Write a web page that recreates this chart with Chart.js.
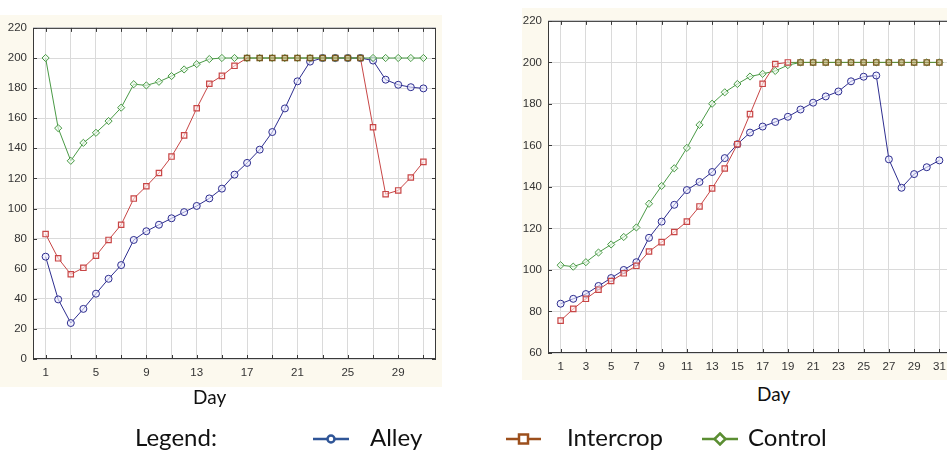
<!DOCTYPE html>
<html>
<head>
<meta charset="utf-8">
<script src="https://cdn.jsdelivr.net/npm/chart.js@4.4.0/dist/chart.umd.min.js"></script>
<style>
  html, body { margin: 0; padding: 0; overflow: hidden; }
  body { width: 947px; height: 451px; position: relative; background: #fff; }
  .wrap { position: absolute; }
  .txt { position: absolute; font-family: Lato, "Open Sans", sans-serif; color: #111; line-height: 1.2; white-space: nowrap; }
  .mk { position: absolute; }
</style>
</head>
<body>
<div class="wrap" style="left:0;top:15px;width:442px;height:372px"><canvas id="leftChart"></canvas></div>
<div class="wrap" style="left:522px;top:8px;width:440px;height:372px"><canvas id="rightChart"></canvas></div>

<div class="txt" style="left:193px;top:386px;font-size:19px">Day</div>
<div class="txt" style="left:757px;top:383px;font-size:19px">Day</div>

<div class="txt" style="left:135px;top:423px;font-size:24px">Legend:</div>
<svg class="mk" style="left:313px;top:432px" width="36" height="14">
  <line x1="0" y1="7" x2="36" y2="7" stroke="#2f5597" stroke-width="2.5"/>
  <circle cx="18" cy="7" r="3.5" fill="#fff" stroke="#2f5597" stroke-width="2.5"/>
</svg>
<div class="txt" style="left:370px;top:423px;font-size:24px">Alley</div>
<svg class="mk" style="left:506px;top:432px" width="35" height="14">
  <line x1="0" y1="7" x2="35" y2="7" stroke="#9c4f1c" stroke-width="2.5"/>
  <rect x="13" y="2.5" width="9" height="9" fill="#fff" stroke="#9c4f1c" stroke-width="2.5"/>
</svg>
<div class="txt" style="left:567px;top:423px;font-size:24px">Intercrop</div>
<svg class="mk" style="left:702px;top:432px" width="36" height="14">
  <line x1="0" y1="7" x2="36" y2="7" stroke="#5b8e32" stroke-width="2.5"/>
  <polygon points="18,1.5 23.5,7 18,12.5 12.5,7" fill="#fff" stroke="#5b8e32" stroke-width="2.5"/>
</svg>
<div class="txt" style="left:748px;top:423px;font-size:24px">Control</div>

<script>
// Données
const days = [1, 2, 3, 4, 5, 6, 7, 8, 9, 10, 11, 12, 13, 14, 15, 16, 17, 18, 19, 20, 21, 22, 23, 24, 25, 26, 27, 28, 29, 30, 31];
const gridDays = [1, 3, 5, 7, 9, 11, 13, 15, 17, 19, 21, 23, 25, 27, 29, 31];
const leftDayLabels = [1, 5, 9, 13, 17, 21, 25, 29];
const rightDayLabels = [1, 3, 5, 7, 9, 11, 13, 15, 17, 19, 21, 23, 25, 27, 29, 31];

// graphique de gauche
const leftAlley = [68, 39.6, 23.9, 33.3, 43.4, 53.3, 62.4, 79.1, 84.9, 89.2, 93.5, 97.6, 101.7, 106.7, 113.2, 122.5,
  130.3, 139.1, 150.8, 166.5, 184.5, 197.6, 200, 200, 200, 200, 198.3, 185.6, 182.2, 180.6, 179.8];
const leftIntercrop = [83, 66.9, 56.3, 60.6, 68.6, 79.1, 89.2, 106.6, 114.8, 123.6, 134.5, 148.6, 166.6, 182.9, 188.1, 194.8,
  200, 200, 200, 200, 200, 200, 200, 200, 200, 200, 154, 109.5, 112, 120.6, 131];
const leftControl = [200, 153.4, 131.7, 143.6, 150.3, 158.1, 167, 182.6, 181.8, 184.2, 188, 192.4, 195.9, 199.3,
  200, 200, 200, 200, 200, 200, 200, 200, 200, 200, 200, 200, 200, 200, 200, 200, 200];

// graphique de droite
const rightAlley = [83.75, 86.1, 88.4, 92.3, 96.1, 100, 103.75, 115.5, 123.3, 131.4, 138.5, 142.4, 147.2, 153.9, 160.6, 166.2,
  169.1, 171.3, 173.8, 177.3, 180.6, 183.6, 186, 190.9, 193.1, 193.7, 153.3, 139.6, 146.2, 149.5, 152.8];
const rightIntercrop = [75.6, 81.25, 86.1, 90.5, 94.7, 98.4, 102, 108.9, 113.4, 118.3, 123.3, 130.6, 139.3, 148.9, 160.6, 175.1,
  189.7, 199.2, 200, 200, 200, 200, 200, 200, 200, 200, 200, 200, 200, 200, 200];
const rightControl = [102.3, 101.6, 103.75, 108.4, 112.3, 115.9, 120.5, 131.9, 140.5, 149, 158.8, 169.9, 180.1, 185.6, 189.6,
  193.2, 194.5, 195.9, 198.7, 200, 200, 200, 200, 200, 200, 200, 200, 200, 200, 200, 200];

const CREAM = '#fcf9ee';
const BLUE = '#2e2e90';
const RED = '#c84646';
const GREEN = '#4a9a46';
const BROWN = '#7a5a22';

function toPoints(values) {
    return days.map((d, i) => ({ x: d, y: values[i] }));
}

// fond crème + cadre avec petites graduations vers l'intérieur
const framePlugin = {
    id: 'frame',
    beforeDraw(chart) {
        const ctx = chart.ctx, a = chart.chartArea;
        ctx.save();
        ctx.fillStyle = CREAM;
        ctx.fillRect(0, 0, chart.width, chart.height);
        ctx.fillStyle = '#fff';
        ctx.fillRect(a.left, a.top, a.right - a.left, a.bottom - a.top);
        ctx.restore();
    },
    beforeDatasetsDraw(chart) {
        const ctx = chart.ctx, a = chart.chartArea;
        const xs = chart.scales.x, ys = chart.scales.y;
        ctx.save();
        ctx.strokeStyle = '#3a3a3a';
        ctx.lineWidth = 1;
        ctx.strokeRect(a.left + 0.5, a.top + 0.5, a.right - a.left - 1, a.bottom - a.top - 1);
        ctx.beginPath();
        xs.ticks.forEach(t => {
            const x = Math.round(xs.getPixelForValue(t.value)) + 0.5;
            ctx.moveTo(x, a.bottom); ctx.lineTo(x, a.bottom - 4);
            ctx.moveTo(x, a.top); ctx.lineTo(x, a.top + 4);
        });
        ys.ticks.forEach(t => {
            const y = Math.round(ys.getPixelForValue(t.value)) + 0.5;
            ctx.moveTo(a.left, y); ctx.lineTo(a.left + 4, y);
            ctx.moveTo(a.right, y); ctx.lineTo(a.right - 4, y);
        });
        ctx.stroke();
        ctx.restore();
    }
};

function makeChart(id, alley, intercrop, control, yMin, labelDays, pad, yWidth, xHeight) {
    const onControl = (ctx) => {
        const i = ctx.dataIndex;
        return intercrop[i] === 200 && control[i] === 200;
    };
    return new Chart(document.getElementById(id).getContext('2d'), {
        type: 'line',
        data: {
            datasets: [{
                label: 'Intercrop',
                data: toPoints(intercrop),
                borderColor: RED,
                borderWidth: 1,
                pointStyle: 'rect',
                pointRadius: 3.8,
                pointBorderWidth: 1.2,
                pointBorderColor: ctx => onControl(ctx) ? BROWN : RED,
                pointBackgroundColor: ctx => onControl(ctx) ? 'rgba(190,160,100,0.55)' : 'rgba(255,235,235,0.6)',
                segment: {
                    borderColor: ctx => (ctx.p0.parsed.y === 200 && ctx.p1.parsed.y === 200) ? '#5f8a36' : RED
                },
                tension: 0,
                fill: false
            }, {
                label: 'Control',
                data: toPoints(control),
                borderColor: GREEN,
                borderWidth: 1,
                pointStyle: 'rectRot',
                pointRadius: 3.6,
                pointBorderWidth: 1,
                pointBorderColor: GREEN,
                pointBackgroundColor: 'rgba(235,250,235,0.6)',
                tension: 0,
                fill: false
            }, {
                label: 'Alley',
                data: toPoints(alley),
                borderColor: BLUE,
                borderWidth: 1,
                pointStyle: 'circle',
                pointRadius: 3.5,
                pointBorderWidth: 1,
                pointBorderColor: BLUE,
                pointBackgroundColor: 'rgba(235,235,255,0.6)',
                tension: 0,
                fill: false
            }]
        },
        options: {
            responsive: true,
            maintainAspectRatio: false,
            animation: false,
            layout: { padding: pad },
            plugins: { legend: { display: false }, tooltip: { enabled: false } },
            scales: {
                x: {
                    type: 'linear',
                    min: 0,
                    max: 32,
                    afterBuildTicks: s => { s.ticks = gridDays.map(v => ({ value: v })); },
                    afterFit: s => { s.height = xHeight; },
                    ticks: {
                        autoSkip: false,
                        maxRotation: 0,
                        padding: 7,
                        color: '#333',
                        font: { family: 'Liberation Sans', size: 11.5 },
                        callback: v => labelDays.includes(v) ? String(v) : ''
                    },
                    grid: { color: '#dadada', drawTicks: false },
                    border: { display: false }
                },
                y: {
                    min: yMin,
                    max: 220,
                    afterFit: s => { s.width = yWidth; },
                    ticks: {
                        stepSize: 20,
                        padding: 6,
                        color: '#333',
                        font: { family: 'Liberation Sans', size: 11.5 }
                    },
                    grid: { color: '#dadada', drawTicks: false },
                    border: { display: false }
                }
            }
        },
        plugins: [framePlugin]
    });
}

makeChart('leftChart', leftAlley, leftIntercrop, leftControl, 0, leftDayLabels,
    { left: 0, top: 8, right: 6, bottom: 0 }, 33, 28);
makeChart('rightChart', rightAlley, rightIntercrop, rightControl, 60, rightDayLabels,
    { left: 0, top: 7, right: 10, bottom: 0 }, 26, 27);
</script>
</body>
</html>
